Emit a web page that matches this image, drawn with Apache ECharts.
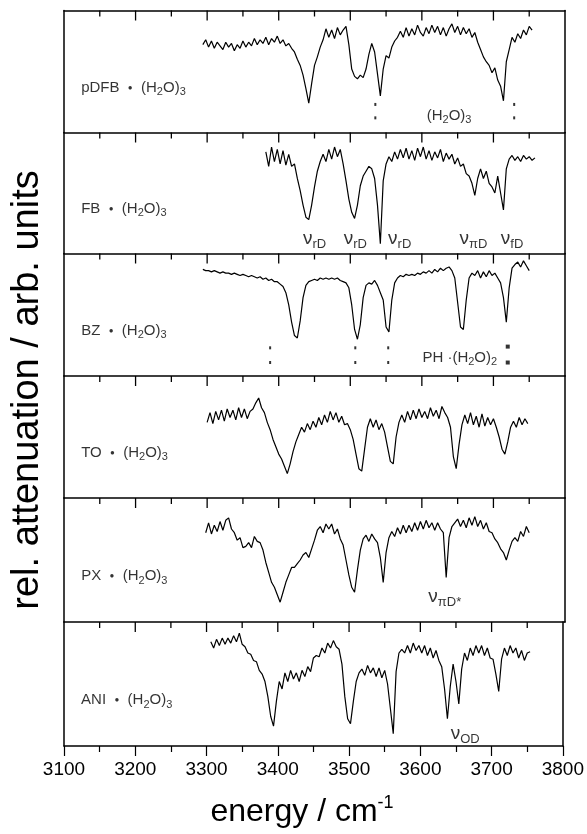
<!DOCTYPE html>
<html><head><meta charset="utf-8">
<script src="https://cdn.jsdelivr.net/npm/echarts@6/dist/echarts.min.js"></script>
<style>html,body{margin:0;padding:0;background:#fff}#c{width:587px;height:834px}</style>
</head><body><div id="c"></div>
<script>
// ---------- data (relative attenuation, panel units 0..100, sampled every 4 cm-1) ----------
const STEP = 4;
const xMin = 3100, xMax = 3800, xMajor = 100;
const majorTicks = [3200,3300,3400,3500,3600,3700];
const minorTicks = [3150,3250,3350,3450,3550,3650,3750];

const pdfbStart = 3294;
const pdfbY = [72,76,70,75,69,74,71,68,74,70,73,67,72,69,75,70,74,71,77,72,76,73,78,72,77,74,79,73,76,71,
  73,69,66,60,55,47,36,24,40,55,62,70,76,
  85,78,84,77,86,80,84,87,
  72,52,46,44,47,45,52,64,73,66,48,30,52,63,61,70,75,78,
  83,78,86,79,85,80,88,82,79,86,81,88,82,87,80,86,79,85,89,82,87,80,86,81,85,78,82,
  74,68,62,58,55,49,53,43,38,26,58,68,78,74,81,77,84,80,87,84];

const fbStart = 3382;
const fbY = [84,72,88,76,86,74,85,73,82,72,74,
  62,52,40,30,28,40,55,68,76,82,
  76,86,78,88,80,86,74,
  60,45,34,29,40,56,64,68,72,70,62,40,8,60,74,80,76,84,
  78,86,79,87,78,85,77,87,80,88,78,85,77,84,79,86,76,83,78,82,74,79,72,74,
  66,64,58,48,62,70,62,68,58,55,50,64,50,36,70,78,81,77,80,76,81,78,80,77,79];

const bzStart = 3294;
const bzY = [87,86,86,85,86,85,84,85,84,84,83,84,83,82,83,82,81,82,81,80,81,79,80,78,79,77,77,75,73,68,
  58,44,33,31,45,64,74,77,78,79,78,80,79,80,79,80,79,80,78,77,76,72,58,38,30,42,64,74,76,75,
  78,74,68,62,40,36,62,76,80,82,81,83,82,83,82,84,83,85,84,86,84,87,85,88,86,88,89,86,80,60,
  40,38,62,80,84,82,86,80,85,81,86,82,84,80,76,64,44,72,88,91,93,89,94,90,86];

const toStart = 3300;
const toY = [62,70,61,71,64,72,63,73,66,72,64,74,66,73,65,71,73,
  78,82,74,70,62,56,48,42,36,32,26,20,28,38,46,52,58,54,61,
  56,63,58,66,60,68,62,71,64,70,62,67,60,61,
  56,48,36,24,22,40,58,65,58,64,56,61,54,42,30,28,50,62,
  68,62,71,64,72,65,73,66,71,65,74,67,72,65,75,70,66,
  58,34,24,44,60,68,61,70,60,67,58,69,59,66,60,65,58,50,40,36,46,58,63,58,66,60,65,61];

const pxStart = 3298;
const pxY = [72,80,71,78,73,81,74,82,84,75,72,66,68,60,61,64,60,69,65,64,
  58,48,40,32,28,22,16,24,32,38,44,44,47,50,54,56,52,59,
  66,74,77,72,79,75,79,71,75,67,62,
  50,38,28,24,42,58,67,70,65,71,67,64,52,32,56,68,73,
  69,76,71,78,72,78,73,80,74,81,75,82,76,80,74,80,75,72,
  36,68,77,80,83,77,82,76,84,78,85,77,82,75,80,73,72,67,64,59,56,50,58,65,68,65,73,69,77,72];

const aniStart = 3306;
const aniY = [84,79,86,81,87,82,87,83,89,84,91,82,80,75,74,69,68,61,58,52,
  40,24,16,36,52,46,59,52,61,54,59,52,61,56,
  64,60,71,73,72,79,75,83,79,85,80,78,
  66,40,22,18,36,52,59,62,57,65,59,63,56,63,55,61,50,30,10,
  60,75,78,75,81,75,83,77,81,75,81,73,79,71,77,69,64,
  46,22,48,66,52,34,62,75,69,79,73,81,75,81,73,79,71,70,58,44,70,79,73,81,75,79,71,77,69,75,76];

const panelNames = ['pDFB', 'FB', 'BZ', 'TO', 'PX', 'ANI'];
const panelStarts = [pdfbStart, fbStart, bzStart, toStart, pxStart, aniStart];
const panelValues = [pdfbY, fbY, bzY, toY, pxY, aniY];
const waterSub = '3';

// annotation marks: [panel, x (cm-1), y (panel units)]
const dotMarks = [[0,3535,23],[0,3535,12],[0,3729,23],[0,3729,12],
  [2,3388,23],[2,3388,11],[2,3507,23],[2,3507,11],[2,3553,23],[2,3553,11]];
const squareMarks = [[2,3720,24],[2,3720,11]];
// text annotations: [panel, x, y, main, sub, main2, sub2, kind]
const noteTexts = [
  [0,3638,14,'(H','2','O)','3','w'],
  [1,3450,12,'ν','rD','','', 'n'],
  [1,3507,12,'ν','rD','','', 'n'],
  [1,3569,12,'ν','rD','','', 'n'],
  [1,3672,12,'ν','πD','','', 'n'],
  [1,3726,12,'ν','fD','','', 'n'],
  [2,3653,15,'PH ·(H','2','O)','2','w'],
  [4,3632,20,'ν','πD*','','', 'n'],
  [5,3663,10,'ν','OD','','', 'n']
];

// ---------- layout ----------
const tops = [10.5, 132.5, 253.5, 376, 498, 622];
const bottomEdge = 746;
const MAJOR_PX = 10, MINOR_PX = 6;
const FONT = '"Liberation Sans", Arial, sans-serif';
const BORDER = {color: '#000', width: 1.5};

const chart = echarts.init(document.getElementById('c'), null, {renderer: 'canvas'});
const grids = [], xAxes = [], yAxes = [], series = [];

const richCommon = {
  m: {fontSize: 15, fontFamily: FONT, color: '#000', lineHeight: 20},
  d: {fontSize: 8, fontFamily: FONT, color: '#000', lineHeight: 20},
  s: {fontSize: 11, fontFamily: FONT, color: '#000', lineHeight: 9, verticalAlign: 'bottom'},
  nu: {fontSize: 19, fontFamily: FONT, color: '#000', lineHeight: 24},
  ns: {fontSize: 13, fontFamily: FONT, color: '#000', lineHeight: 11, verticalAlign: 'bottom'}
};

function xAxisFor(gridIndex, pos, withTicks) {
  return {gridIndex: gridIndex, type: 'value', min: xMin, max: xMax, interval: xMajor, position: pos,
    axisLine: {show: true, onZero: false, lineStyle: BORDER},
    axisTick: {show: withTicks, inside: false, length: 10, lineStyle: {color: '#000', width: 1.2}},
    minorTick: {show: withTicks, splitNumber: 2, length: 6, lineStyle: {color: '#000', width: 1.2}},
    axisLabel: {show: withTicks, fontSize: 19, color: '#000', fontFamily: FONT, margin: 14,
      formatter: v => String(v)},
    splitLine: {show: false}, minorSplitLine: {show: false}};
}
function sideAxis(gridIndex, pos) {
  return {gridIndex: gridIndex, type: 'value', min: 0, max: 100, position: pos,
    axisLine: {show: true, onZero: false, lineStyle: BORDER},
    axisTick: {show: false}, axisLabel: {show: false}, splitLine: {show: false}};
}

for (let i = 0; i < 6; i++) {
  const h = (i < 5 ? tops[i + 1] : bottomEdge) - tops[i];
  grids.push({left: 64, right: 22, top: tops[i], height: h, show: false});
  xAxes.push(xAxisFor(i, 'bottom', i === 5));
  yAxes.push(sideAxis(i, 'left'));
  yAxes.push(sideAxis(i, 'right'));
  const ys = panelValues[i];
  const pts = ys.map((v, k) => [panelStarts[i] + k * STEP, v]);
  series.push({type: 'line', xAxisIndex: i, yAxisIndex: 2 * i, data: pts, symbol: 'none',
    lineStyle: {color: '#000', width: 1.2}, silent: true, animation: false});
  // inward ticks hanging from the top edge of each panel (tick length converted to panel units)
  const majLen = MAJOR_PX / h * 100, minLen = MINOR_PX / h * 100;
  const tickPts = [];
  majorTicks.forEach(v => { tickPts.push([v, 100], [v, 100 - majLen], [v, '-']); });
  minorTicks.forEach(v => { tickPts.push([v, 100], [v, 100 - minLen], [v, '-']); });
  series.push({type: 'line', xAxisIndex: i, yAxisIndex: 2 * i, data: tickPts, symbol: 'none',
    connectNulls: false, lineStyle: {color: '#000', width: 1.3}, silent: true, animation: false});
  series.push({type: 'scatter', xAxisIndex: i, yAxisIndex: 2 * i, symbolSize: 0, silent: true, animation: false,
    itemStyle: {color: 'rgba(0,0,0,0)'},
    data: [[3124, 37]],
    label: {show: true, position: 'right', distance: 0,
      formatter: '{m|' + panelNames[i] + '  }{d|●}{m|  (H}{s|2}{m|O)}{s|' + waterSub + '}',
      rich: richCommon}});
}
xAxes.push(xAxisFor(0, 'top', false));

for (let p = 0; p < 6; p++) {
  const d = dotMarks.filter(m => m[0] === p).map(m => [m[1], m[2]]);
  const q = squareMarks.filter(m => m[0] === p).map(m => [m[1], m[2]]);
  if (d.length) series.push({type: 'scatter', xAxisIndex: p, yAxisIndex: 2 * p, symbol: 'rect',
    symbolSize: [2, 3], itemStyle: {color: '#000'}, data: d, silent: true, animation: false});
  if (q.length) series.push({type: 'scatter', xAxisIndex: p, yAxisIndex: 2 * p, symbol: 'rect',
    symbolSize: [4, 4], itemStyle: {color: '#000'}, data: q, silent: true, animation: false});
  const n = noteTexts.filter(m => m[0] === p);
  if (n.length) series.push({type: 'scatter', xAxisIndex: p, yAxisIndex: 2 * p, symbolSize: 0,
    itemStyle: {color: 'rgba(0,0,0,0)'}, silent: true, animation: false,
    data: n.map(m => ({value: [m[1], m[2]], label: {formatter: m[7] === 'n'
      ? '{nu|' + m[3] + '}{ns|' + m[4] + '}'
      : '{m|' + m[3] + '}{s|' + m[4] + '}{m|' + m[5] + '}{s|' + m[6] + '}'}})),
    label: {show: true, position: 'inside', rich: richCommon}});
}

chart.setOption({
  animation: false,
  backgroundColor: '#fff',
  grid: grids, xAxis: xAxes, yAxis: yAxes, series: series,
  graphic: [
    {type: 'text', x: 28, y: 390, rotation: Math.PI / 2,
      style: {text: 'rel. attenuation / arb. units', font: '38px ' + FONT, fill: '#000',
        textAlign: 'center', textVerticalAlign: 'middle'}},
    {type: 'text', x: 302, y: 812,
      style: {text: '{a|energy / cm}{b|-1}', fill: '#000', textAlign: 'center', textVerticalAlign: 'middle',
        rich: {a: {fontSize: 32, fontFamily: FONT, color: '#000', lineHeight: 36},
               b: {fontSize: 18, fontFamily: FONT, color: '#000', lineHeight: 20, verticalAlign: 'top'}}}}
  ]
});
</script></body></html>
